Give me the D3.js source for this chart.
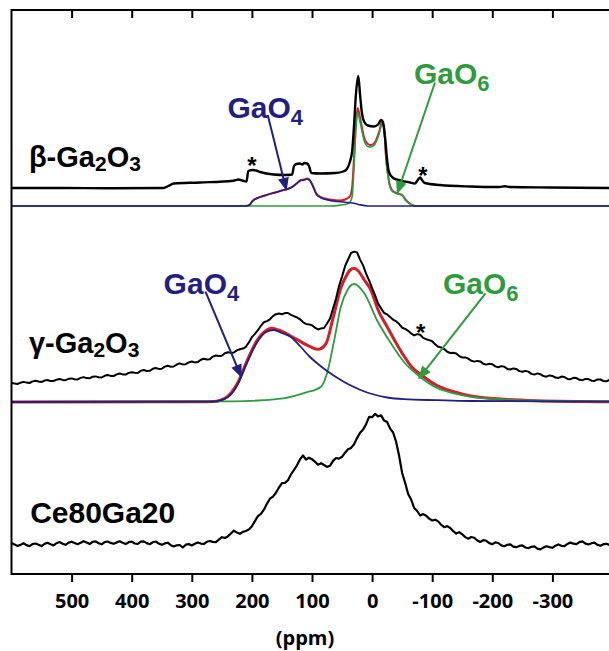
<!DOCTYPE html>
<html>
<head>
<meta charset="utf-8">
<script src="https://cdn.jsdelivr.net/npm/d3@7"></script>
<style>
  body { margin: 0; background: #fff; }
  svg { display: block; }
</style>
</head>
<body>
<div class="canvas"></div>
<script>
// ---- data: [ppm, intensity (a.u., above each trace's baseline)] ----
let xTicks = [500, 400, 300, 200, 100, 0, -100, -200, -300];

let betaExp = [[600,18],[518,18],[435,17.7],[347,18],[339,20],[330,22.5],[286,23.5],[231,25.3],[222,26.5],[216,25.5],[209,24.5],[206,35],[199,36],[193,35.5],[186,34],[176,32.5],[164,31.5],[144,31],[133,31.5],[130,40],[126,42],[120,42.5],[116,41.5],[113,43],[108,42.5],[105,40],[101,33],[86,32.5],[61,33],[48,34.5],[42,37],[37,44],[33,56],[30,81],[27,111],[23,130],[20,111],[17,93],[13,84],[7,80.5],[-3,79.5],[-10,81.5],[-15,86],[-18,84],[-22,66],[-25,46],[-28,34],[-35,28],[-47,25.5],[-63,23.5],[-71,22.5],[-76,26],[-80,28.5],[-83,26],[-88,23],[-113,21],[-163,19.5],[-212,19],[-221,19.7],[-229,19],[-295,18.5],[-400,18]];
let betaGaO4 = [[600,0],[211,0],[204,1],[199,5],[192.5,7.5],[178,10.5],[153,15],[133,19],[124.5,23],[119.5,25.5],[113,26],[108,27],[103,25],[98,19],[93,12],[86,8.5],[65,5],[45,3.8],[28,2.5],[20,1.2],[7,0],[-400,0]];
let betaGaO6 = [[600,0],[70,0],[52,1],[41.5,2],[36.5,4],[33,10],[30,40],[26.6,80],[24,94],[20,84],[13,65],[7,59.5],[2,59],[-5,62],[-11.6,72],[-16.6,82],[-20,76],[-23,48],[-28,24],[-33,15],[-40,12.5],[-50,10.5],[-56,5.5],[-65,1.5],[-73,0],[-400,0]];
let betaFit = [[600,0],[211,0],[204,1],[199,5],[192.5,7.5],[178,10.5],[153,15],[133,19],[124.5,23],[119.5,25.5],[113,26.5],[108,27.5],[103,25.5],[98,19.5],[93,12.5],[86,9],[70,6.5],[53,5.5],[43,7],[36.5,10],[33,20],[30,50],[26.6,85],[24,98],[20,88],[13,68],[7,62],[2,61],[-5,64],[-11.6,74],[-16.6,84],[-20,78],[-23,50],[-28,25],[-33,16],[-40,13],[-50,11],[-56,6],[-65,1.5],[-73,0],[-400,0]];

let gammaExp = [[600,19.2],[595,18.4],[590,18],[585,19.3],[580,20.1],[575,19.4],[570,19],[565,20.6],[560,21.3],[555,20.5],[550,20],[545,21.4],[540,22],[535,20.9],[530,21],[525,22.3],[520,23],[515,22.1],[510,21.8],[505,23.2],[500,23.6],[495,22.8],[490,22.6],[485,24.1],[480,24.9],[475,23.9],[470,23.7],[465,25.3],[460,25.6],[455,24.8],[450,24.5],[445,26.2],[440,27],[435,26.1],[430,26],[425,27.6],[420,28.5],[415,27.6],[410,27.4],[405,29.1],[400,29.8],[395,29.2],[390,29],[385,31.1],[380,32],[375,31],[370,31.2],[365,33.2],[360,34],[355,33.1],[350,33.3],[345,35.4],[340,36.2],[335,35.3],[330,35.5],[325,37.5],[320,38.6],[315,37.6],[310,37.8],[305,39.6],[300,40.5],[295,39.6],[290,39.9],[285,42.2],[280,43.2],[275,42.5],[270,42.8],[265,45.4],[260,46.5],[255,45.9],[250,46.3],[245,48.7],[240,49.8],[235,49.1],[230,49.5],[225,51.6],[220,52.8],[215,53.4],[210,55.2],[205,59.6],[200,64.8],[195,68.1],[190,71.8],[185,76.2],[180,79.8],[175,80.9],[170,82.7],[165,85.9],[160,87.8],[155,88.4],[150,87.8],[145,88.9],[140,89],[135,87.1],[130,85.8],[125,84.6],[120,82.7],[115,79.9],[110,78],[105,77.6],[100,76.7],[95,74.3],[90,72.5],[85,73.6],[80,74],[75,78.5],[70,83.4],[65,93.5],[60,103.4],[55,116],[50,125.4],[45,135.8],[40,142.5],[35,149],[30,150.4],[25,149.6],[20,142.4],[15,136.6],[10,128.4],[5,121.6],[0,114],[-5,106.6],[-10,98.4],[-15,93.6],[-20,89],[-25,87.6],[-30,85],[-35,82.3],[-40,80.7],[-45,77.9],[-50,74.3],[-55,73.1],[-60,71.2],[-65,68.5],[-70,66.6],[-75,67.9],[-80,67.2],[-85,64.1],[-90,62.8],[-95,61.9],[-100,60.8],[-105,57.6],[-110,55.2],[-115,54.6],[-120,52.9],[-125,50.2],[-130,49],[-135,49.3],[-140,48.5],[-145,45.9],[-150,44.5],[-155,44.6],[-160,43.4],[-165,41.2],[-170,40.4],[-175,41.1],[-180,40.6],[-185,38.3],[-190,37.4],[-195,38.2],[-200,37.8],[-205,35.6],[-210,34.8],[-215,35.9],[-220,35.2],[-225,33.1],[-230,32.5],[-235,33.6],[-240,33],[-245,30.9],[-250,30.2],[-255,31.1],[-260,30.4],[-265,28.1],[-270,27.4],[-275,28.6],[-280,27.8],[-285,25.9],[-290,25.3],[-295,26.6],[-300,26.1],[-305,24.4],[-310,24],[-315,25.4],[-320,25],[-325,23.1],[-330,22.8],[-335,24.2],[-340,23.9],[-345,22.2],[-350,21.8],[-355,23.1],[-360,22.9],[-365,21.3],[-370,21.1],[-375,22.6],[-380,22.5],[-385,21],[-390,20.8],[-395,22],[-400,22.2]];
let gammaGaO4 = [[600,0],[285,0.3],[264,0.5],[241,4.5],[224,17],[207.5,40],[191,60],[177.6,69.5],[164,72],[150,69],[135,65],[120,56],[105,46],[90,38],[75,31],[60,25],[45,19.5],[30,15],[15,11],[0,8],[-25,4.5],[-53,2.8],[-108,1.8],[-163,1],[-400,0.3]];
let gammaGaO6 = [[600,0],[231,0.7],[148,3.7],[111,9.3],[85,15.3],[75,28.7],[63,62],[52,95.3],[41,112],[30,118],[13,108.7],[-8,82],[-31,59],[-53,40],[-81,24.5],[-108,14],[-136,8.7],[-164,5.3],[-219,2.7],[-274,1.3],[-400,0.5]];
let gammaFit = [[600,0],[285,0.3],[264,0.5],[241,5.3],[224,18.7],[207.5,42],[191,62],[177.6,71],[167.6,73.7],[156,72],[128.5,63.7],[103,55.3],[90,52.7],[77,58],[65,84],[51.5,115],[43,126],[36.5,132],[30,133.7],[23,131],[13,122],[2,112],[-10,92],[-25,75.3],[-38,61],[-53,46],[-66,35],[-81,27.5],[-108,16.5],[-136,10.3],[-164,6],[-219,2.7],[-274,1.3],[-400,0.3]];

let ceExp = [[600,17],[595,15.6],[590,14],[585,15.1],[580,16.8],[575,14.9],[570,13.8],[565,15.9],[560,16.5],[555,15.3],[550,13.9],[545,16.1],[540,17.2],[535,15.7],[530,14.6],[525,16.8],[520,18],[515,16.3],[510,15.2],[505,17.4],[500,18.3],[495,17.1],[490,15.8],[485,17.2],[480,18.8],[475,17.4],[470,16],[465,18.1],[460,18.6],[455,16.7],[450,15.7],[445,17.9],[440,18.5],[435,17.1],[430,16.2],[425,17.6],[420,18.7],[415,17.3],[410,15.9],[405,17.8],[400,18.4],[395,16.5],[390,16],[385,18.3],[380,18.6],[375,16.9],[370,15.8],[365,17.7],[360,18.5],[355,16.4],[350,15.2],[345,16.6],[340,17.3],[335,14.8],[330,13.5],[325,14.7],[320,15],[315,12.5],[310,15.3],[305,15.9],[300,14.5],[295,16.2],[290,17.6],[285,16.4],[280,16],[275,18.2],[270,19],[265,18.1],[260,17.8],[255,20.4],[250,22.8],[245,22.1],[240,23.6],[235,26.5],[230,29.4],[225,27.4],[220,26.2],[215,28.1],[210,29],[205,30.6],[200,33.8],[195,38.9],[190,43.8],[185,46.1],[180,50.3],[175,56.2],[170,61.3],[165,63.4],[160,67.2],[155,72.5],[150,76.8],[145,77.1],[140,79.8],[135,85.6],[130,90],[125,94.7],[120,100.6],[115,104.5],[110,100.5],[105,102.3],[100,100.8],[95,98.2],[90,95.3],[85,96.8],[80,95],[75,93.1],[70,94.2],[65,99.1],[60,102],[55,101.4],[50,103.2],[45,107.3],[40,110.8],[35,112.1],[30,115.8],[25,121.9],[20,127.2],[15,130.4],[10,135.8],[5,143.2],[0,142.8],[-5,146.2],[-10,143.6],[-15,144.6],[-20,139.4],[-25,138],[-30,131.4],[-35,127.5],[-40,118],[-45,104],[-50,87],[-55,77],[-60,66],[-65,60.5],[-70,52],[-75,49],[-80,44.5],[-85,45.9],[-90,44.2],[-95,41.4],[-100,39.5],[-105,40.3],[-110,38.6],[-115,35.1],[-120,32.8],[-125,33.9],[-130,32],[-135,28.8],[-140,26.4],[-145,27.8],[-150,25.7],[-155,22.9],[-160,21.3],[-165,23],[-170,22.2],[-175,19.5],[-180,18],[-185,19.9],[-190,19.2],[-195,16.9],[-200,15.8],[-205,17.6],[-210,17],[-215,14.6],[-220,13.8],[-225,15.2],[-230,15.7],[-235,13.4],[-240,12.8],[-245,14.1],[-250,14.7],[-255,12.5],[-260,11.8],[-265,13.2],[-270,13.6],[-275,11.4],[-280,10.6],[-285,12.4],[-290,13.8],[-295,12.9],[-300,12.2],[-305,14.3],[-310,15.6],[-315,14.2],[-320,13.9],[-325,16.1],[-330,17.4],[-335,16.3],[-340,15.8],[-345,17.9],[-350,18.6],[-355,16.4],[-360,15.5],[-365,16.8],[-370,17.3],[-375,15.1],[-380,14.2],[-385,15.8],[-390,16.2],[-395,15.1],[-400,14.5]];

// ---- layout ----
const width = 609, height = 651;
const frame = { left: 11.5, right: 612.5, top: 10, bottom: 574 };
const blue = '#231f7e', green = '#2e9b3f', red = '#d0202a';
const labelFont = '"Liberation Sans", Arial, sans-serif';
const axisFont = '"Open Sans", "Liberation Sans", sans-serif';

const svg = d3.select('.canvas').append('svg')
  .attr('width', width).attr('height', height);

const x = d3.scaleLinear().domain([600, -400]).range([frame.left, frame.right]);

// one y scale per trace (stacked spectra)
const yBeta = d3.scaleLinear().domain([0, 130]).range([206, 76]);
const yGamma = d3.scaleLinear().domain([0, 150]).range([402, 252]);
const yCe = d3.scaleLinear().domain([0, 145]).range([560, 415]);

svg.append('defs').append('clipPath').attr('id', 'plot-clip')
  .append('rect')
  .attr('x', frame.left).attr('y', frame.top)
  .attr('width', frame.right - frame.left).attr('height', frame.bottom - frame.top);

const plot = svg.append('g').attr('clip-path', 'url(#plot-clip)');

function drawTrace(data, yScale, color, lw, curve) {
  const line = d3.line()
    .x(d => x(d[0]))
    .y(d => yScale(d[1]))
    .curve(curve);
  plot.append('path')
    .datum(data)
    .attr('d', line)
    .attr('fill', 'none')
    .attr('stroke', color)
    .attr('stroke-width', lw)
    .attr('stroke-linejoin', 'round');
}

// beta
drawTrace(betaFit, yBeta, red, 2, d3.curveMonotoneX);
drawTrace(betaGaO6, yBeta, green, 1.6, d3.curveMonotoneX);
drawTrace(betaGaO4, yBeta, blue, 1.6, d3.curveMonotoneX);
drawTrace(betaExp, yBeta, '#000', 2.4, d3.curveMonotoneX);
// gamma
drawTrace(gammaFit, yGamma, red, 3, d3.curveMonotoneX);
drawTrace(gammaGaO6, yGamma, green, 1.8, d3.curveMonotoneX);
drawTrace(gammaGaO4, yGamma, blue, 1.8, d3.curveMonotoneX);
drawTrace(gammaExp, yGamma, '#000', 2, d3.curveLinear);
// Ce80Ga20
drawTrace(ceExp, yCe, '#000', 2.2, d3.curveLinear);

// ---- frame and axes ----
svg.append('rect')
  .attr('x', frame.left).attr('y', frame.top)
  .attr('width', frame.right - frame.left).attr('height', frame.bottom - frame.top)
  .attr('fill', 'none').attr('stroke', '#000').attr('stroke-width', 2);

const bottomAxis = svg.append('g')
  .attr('transform', `translate(0, ${frame.bottom})`)
  .call(d3.axisBottom(x).tickValues(xTicks).tickSize(8).tickPadding(12)
    .tickSizeOuter(0).tickFormat(d => String(d)));
bottomAxis.select('.domain').remove();
bottomAxis.selectAll('line').attr('stroke-width', 2);
bottomAxis.selectAll('text')
  .style('font-family', axisFont).style('font-weight', 700).style('font-size', '20px')
  .attr('fill', '#000');

const topAxis = svg.append('g')
  .attr('transform', `translate(0, ${frame.top})`)
  .call(d3.axisBottom(x).tickValues(xTicks).tickSize(8).tickFormat(''));
topAxis.select('.domain').remove();
topAxis.selectAll('line').attr('stroke-width', 2);

svg.append('text')
  .attr('x', 305).attr('y', 645)
  .attr('text-anchor', 'middle')
  .style('font-family', axisFont).style('font-weight', 700).style('font-size', '20px')
  .text('(ppm)');

// ---- annotations ----
function formula(parts, px, py, size, subSize, shift, color) {
  const t = svg.append('text')
    .attr('x', px).attr('y', py)
    .attr('fill', color)
    .style('font-family', labelFont).style('font-weight', 700).style('font-size', size + 'px');
  let down = false;
  parts.forEach(p => {
    const isSub = p[1];
    const s = t.append('tspan').text(p[0]);
    if (isSub && !down) { s.attr('dy', shift).style('font-size', subSize + 'px'); down = true; }
    else if (isSub) { s.style('font-size', subSize + 'px'); }
    else if (down) { s.attr('dy', -shift); down = false; }
  });
}

formula([['β-Ga', false], ['2', true], ['O', false], ['3', true]], x(571), yBeta(39), 29, 21, 4, '#000');
formula([['γ-Ga', false], ['2', true], ['O', false], ['3', true]], x(571), yGamma(49), 29, 21, 4, '#000');
formula([['Ce80Ga20', false]], x(569), yCe(37), 30, 20, 0, '#000');

formula([['GaO', false], ['4', true]], x(240.7), yBeta(88), 30, 22, 7, blue);
formula([['GaO', false], ['6', true]], x(-69.7), yBeta(122), 30, 22, 7, green);
formula([['GaO', false], ['4', true]], x(346.9), yGamma(108), 30, 22, 7, blue);
formula([['GaO', false], ['6', true]], x(-117.8), yGamma(108), 30, 22, 7, green);

// spinning sidebands
const stars = [[200, 32.3, yBeta], [-84.6, 22.3, yBeta], [-80.8, 61, yGamma]];
stars.forEach(s => {
  svg.append('text')
    .attr('x', x(s[0])).attr('y', s[2](s[1]))
    .attr('text-anchor', 'middle')
    .style('font-family', labelFont).style('font-weight', 700).style('font-size', '24px')
    .text('*');
});

// arrows
const defs = svg.select('defs');
[['blue', blue], ['green', green]].forEach(m => {
  defs.append('marker')
    .attr('id', 'arrow-' + m[0])
    .attr('viewBox', '0 0 12 10')
    .attr('refX', 11).attr('refY', 5)
    .attr('markerWidth', 14).attr('markerHeight', 11)
    .attr('markerUnits', 'userSpaceOnUse')
    .attr('orient', 'auto')
    .append('path').attr('d', 'M0,0 L12,5 L0,10 z').attr('fill', m[1]);
});

const arrows = [
  { from: [173.6, 91], to: [142.7, 16], y: yBeta, color: blue, m: 'blue' },
  { from: [-104.6, 123.5], to: [-42, 12.7], y: yBeta, color: green, m: 'green' },
  { from: [277.2, 110.3], to: [217.9, 25.3], y: yGamma, color: blue, m: 'blue' },
  { from: [-188.7, 108.7], to: [-78, 23.7], y: yGamma, color: green, m: 'green' }
];
arrows.forEach(a => {
  svg.append('line')
    .attr('x1', x(a.from[0])).attr('y1', a.y(a.from[1]))
    .attr('x2', x(a.to[0])).attr('y2', a.y(a.to[1]))
    .attr('stroke', a.color).attr('stroke-width', 2)
    .attr('marker-end', `url(#arrow-${a.m})`);
});
</script>
</body>
</html>
